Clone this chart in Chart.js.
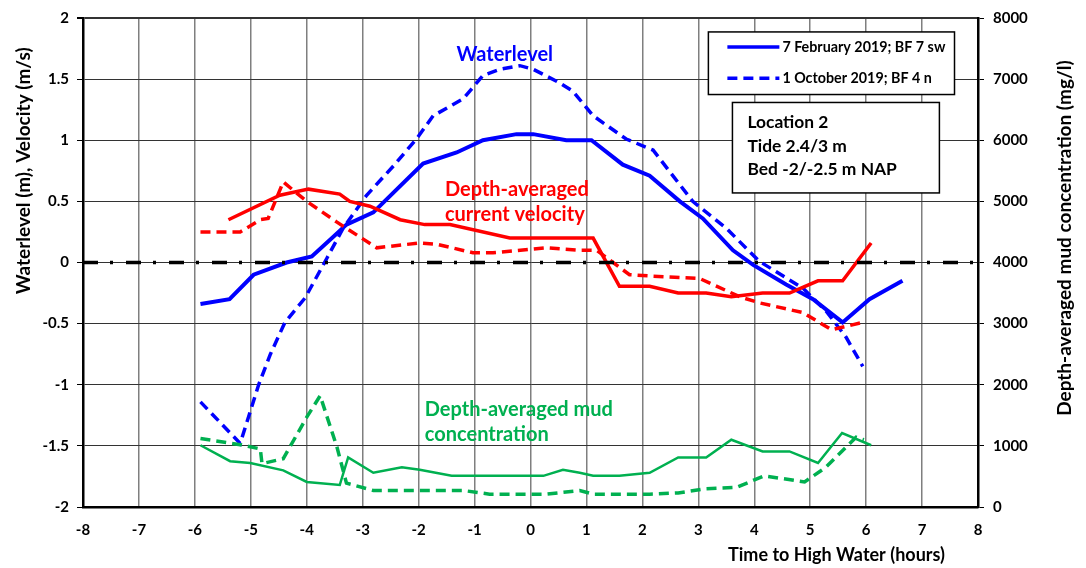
<!DOCTYPE html>
<html>
<head>
<meta charset="utf-8">
<script src="https://cdn.jsdelivr.net/npm/chart.js@4.4.1/dist/chart.umd.min.js"></script>
<style>
  html, body { margin: 0; padding: 0; background: #fff; }
  #wrap { width: 1086px; height: 568px; position: relative; }
</style>
</head>
<body>
<div id="wrap"><canvas id="tideChart"></canvas></div>
<script>
// time to high water (hours) and values
const timeWaterFeb = [-5.9, -5.38, -4.95, -4.36, -3.91, -3.5, -3.29, -2.81, -1.92, -1.32, -0.85, -0.25, 0.05, 0.64, 1.09, 1.65, 2.13, 2.67, 3.08, 3.62, 3.98, 4.57, 5.05, 5.58, 6.06, 6.65];
const waterFeb = [-0.34, -0.30, -0.10, 0.0, 0.05, 0.22, 0.31, 0.41, 0.81, 0.90, 1.0, 1.05, 1.05, 1.0, 1.0, 0.80, 0.71, 0.50, 0.36, 0.10, -0.02, -0.18, -0.30, -0.49, -0.30, -0.15];

const timeWaterOct = [-5.9, -5.19, -4.86, -4.65, -4.39, -4.03, -3.64, -3.35, -2.93, -2.45, -2.04, -1.74, -1.2, -0.85, -0.55, -0.19, 0.05, 0.52, 0.76, 1.12, 1.71, 2.19, 2.9, 3.5, 4.09, 4.87, 5.29, 5.64, 5.94];
const waterOct = [-1.14, -1.48, -1.0, -0.75, -0.49, -0.29, 0.035, 0.28, 0.55, 0.79, 1.01, 1.2, 1.34, 1.53, 1.58, 1.61, 1.58, 1.47, 1.40, 1.2, 1.01, 0.92, 0.5, 0.28, 0.01, -0.21, -0.40, -0.61, -0.85];

const timeVelFeb = [-5.4, -4.48, -3.97, -3.41, -3.23, -2.87, -2.33, -1.89, -1.44, -0.37, 1.12, 1.59, 2.13, 2.64, 3.14, 3.59, 4.15, 4.63, 5.14, 5.58, 6.09];
const velFeb = [0.35, 0.55, 0.60, 0.56, 0.50, 0.46, 0.35, 0.31, 0.31, 0.20, 0.20, -0.195, -0.195, -0.25, -0.25, -0.28, -0.25, -0.25, -0.15, -0.15, 0.16];

const timeVelOct = [-5.9, -5.19, -4.83, -4.69, -4.42, -4.24, -4.0, -3.46, -2.75, -1.98, -1.68, -1.03, -0.67, 0.29, 0.88, 1.18, 1.77, 2.13, 3.02, 3.74, 4.09, 4.87, 5.38, 5.94];
const velOct = [0.25, 0.25, 0.35, 0.36, 0.66, 0.59, 0.50, 0.33, 0.12, 0.16, 0.15, 0.08, 0.08, 0.12, 0.10, 0.10, -0.10, -0.11, -0.13, -0.28, -0.33, -0.41, -0.55, -0.49];

const timeMudFeb = [-5.9, -5.37, -5.01, -4.42, -4.0, -3.41, -3.26, -2.81, -2.3, -1.98, -1.41, 0.23, 0.58, 0.88, 1.12, 1.59, 2.13, 2.64, 3.14, 3.59, 4.15, 4.63, 5.14, 5.57, 6.09];
const mudFeb = [1010, 750, 720, 600, 410, 360, 810, 560, 650, 610, 510, 510, 610, 560, 510, 510, 560, 810, 810, 1100, 910, 910, 720, 1210, 1010];

const timeMudOct = [-5.9, -5.19, -4.83, -4.8, -4.42, -4.0, -3.76, -3.46, -3.29, -2.81, -1.2, -0.73, 0.29, 0.88, 1.12, 2.13, 2.64, 3.14, 3.68, 4.18, 4.9, 5.28, 5.82, 5.96];
const mudOct = [1120, 1020, 950, 710, 790, 1470, 1820, 980, 390, 270, 270, 210, 210, 270, 210, 210, 230, 300, 320, 510, 410, 650, 1140, 1100];

const zeroLineTime = [-8, 8];
const zeroLine = [0, 0];

const legendLabels = ['7 February 2019; BF 7 sw', '1 October 2019; BF 4 n'];
const infoLines = ['Location 2', 'Tide 2.4/3 m', 'Bed -2/-2.5 m NAP'];

const FONT = 'Lato, "Open Sans", sans-serif';
const BLUE = '#0000ff', RED = '#ff0000', GREEN = '#00b050';

function pairs(xs, ys) {
  return xs.map((t, i) => ({ x: t, y: ys[i] }));
}

function line(data, color, width, dash, axis) {
  return {
    data: data,
    borderColor: color,
    backgroundColor: color,
    borderWidth: width,
    borderDash: dash,
    pointRadius: 0,
    tension: 0,
    fill: false,
    yAxisID: axis
  };
}

function vText(ctx, txt, x, y) {
  ctx.save();
  ctx.translate(x, y);
  ctx.rotate(-Math.PI / 2);
  ctx.fillText(txt, 0, 0);
  ctx.restore();
}

// series labels, legend box, info box and axis titles
const overlay = {
  id: 'overlay',
  afterDatasetsDraw(chart) {
    const ctx = chart.ctx;
    const px = v => chart.scales.x.getPixelForValue(v);
    const py = v => chart.scales.y.getPixelForValue(v);
    ctx.save();
    ctx.textBaseline = 'middle';

    ctx.font = 'bold 20px ' + FONT;
    ctx.fillStyle = BLUE;
    ctx.textAlign = 'center';
    ctx.fillText('Waterlevel', px(-0.46), py(1.70));

    ctx.textAlign = 'left';
    ctx.fillStyle = RED;
    ctx.fillText('Depth-averaged', px(-1.53), py(0.60));
    ctx.fillText('current velocity', px(-1.53), py(0.39));

    ctx.fillStyle = GREEN;
    ctx.fillText('Depth-averaged mud', px(-1.89), py(-1.20));
    ctx.fillText('concentration', px(-1.89), py(-1.41));

    // legend
    let x0 = px(3.18), x1 = px(7.58), y0 = py(1.886), y1 = py(1.374);
    ctx.fillStyle = '#fff';
    ctx.fillRect(x0, y0, x1 - x0, y1 - y0);
    ctx.strokeStyle = '#000';
    ctx.lineWidth = 1.5;
    ctx.strokeRect(x0, y0, x1 - x0, y1 - y0);
    const rows = [y0 + (y1 - y0) * 0.24, y0 + (y1 - y0) * 0.74];
    ctx.strokeStyle = BLUE;
    ctx.lineWidth = 3.5;
    rows.forEach((ry, i) => {
      ctx.setLineDash(i === 0 ? [] : [10, 6]);
      ctx.beginPath();
      ctx.moveTo(x0 + 19, ry);
      ctx.lineTo(x0 + 71, ry);
      ctx.stroke();
    });
    ctx.setLineDash([]);
    ctx.fillStyle = '#000';
    ctx.font = 'bold 14.3px ' + FONT;
    legendLabels.forEach((txt, i) => ctx.fillText(txt, x0 + 74, rows[i]));

    // info box
    x0 = px(3.61); x1 = px(7.31); y0 = py(1.309); y1 = py(0.569);
    ctx.fillStyle = '#fff';
    ctx.fillRect(x0, y0, x1 - x0, y1 - y0);
    ctx.strokeStyle = '#000';
    ctx.lineWidth = 1.5;
    ctx.strokeRect(x0, y0, x1 - x0, y1 - y0);
    ctx.fillStyle = '#000';
    ctx.font = 'bold 17.4px ' + FONT;
    infoLines.forEach((txt, i) => ctx.fillText(txt, x0 + 15, y0 + 20 + i * 23.5));

    // axis titles
    ctx.textAlign = 'center';
    ctx.font = 'bold 18px ' + FONT;
    ctx.fillText('Time to High Water (hours)', px(5.47), 555);
    ctx.font = 'bold 19px ' + FONT;
    vText(ctx, 'Waterlevel (m), Velocity (m/s)', 24, py(0.75));
    vText(ctx, 'Depth-averaged mud concentration (mg/l)', 1065, py(0.2));
    ctx.restore();
  }
};

const ctx = document.getElementById('tideChart').getContext('2d');

const tideChart = new Chart(ctx, {
  type: 'line',
  data: {
    datasets: [
      line(pairs(zeroLineTime, zeroLine), '#000', 3.5, [15, 12, 3, 13], 'y'),
      line(pairs(timeMudFeb, mudFeb), GREEN, 2.5, [], 'y2'),
      line(pairs(timeMudOct, mudOct), GREEN, 3.5, [10, 6], 'y2'),
      line(pairs(timeVelFeb, velFeb), RED, 3.5, [], 'y'),
      line(pairs(timeVelOct, velOct), RED, 3.5, [10, 6], 'y'),
      line(pairs(timeWaterFeb, waterFeb), BLUE, 4, [], 'y'),
      line(pairs(timeWaterOct, waterOct), BLUE, 3.5, [10, 6], 'y')
    ]
  },
  options: {
    responsive: true,
    maintainAspectRatio: false,
    animation: false,
    layout: { padding: { top: 15, right: 0, bottom: 0, left: 0 } },
    plugins: {
      legend: { display: false },
      tooltip: { enabled: false }
    },
    scales: {
      x: {
        type: 'linear',
        min: -8,
        max: 8,
        afterFit: s => { s.height = 61; },
        ticks: {
          stepSize: 1,
          color: '#000',
          padding: 14,
          font: { family: FONT, size: 15, weight: 'bold' }
        },
        grid: {
          color: '#7f7f7f',
          lineWidth: 1.5,
          drawTicks: false
        },
        border: { color: '#000', width: 2.5 }
      },
      y: {
        position: 'left',
        min: -2,
        max: 2,
        afterFit: s => { s.width = 83; },
        ticks: {
          stepSize: 0.5,
          color: '#000',
          padding: 8,
          callback: v => String(v),
          font: { family: FONT, size: 15, weight: 'bold' }
        },
        grid: {
          color: '#333',
          lineWidth: c => (c.tick && c.tick.value === 2 ? 2 : 1),
          tickColor: '#000',
          tickLength: 6
        },
        border: { color: '#000', width: 2.5 }
      },
      y2: {
        position: 'right',
        min: 0,
        max: 8000,
        afterFit: s => { s.width = 108; },
        ticks: {
          stepSize: 1000,
          color: '#000',
          padding: 9,
          callback: v => String(v),
          font: { family: FONT, size: 15, weight: 'bold' }
        },
        grid: {
          drawOnChartArea: false,
          color: '#000',
          tickLength: 6
        },
        border: { color: '#000', width: 2.5 }
      }
    }
  },
  plugins: [overlay]
});
</script>
</body>
</html>
